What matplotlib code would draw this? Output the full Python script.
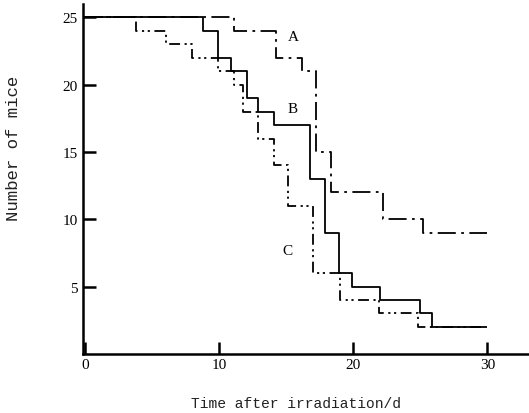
import matplotlib
matplotlib.use("Agg")
import matplotlib.pyplot as plt

# Survival curves (number of mice vs. days after irradiation)
A_t = [0, 11.1, 14.2, 16.2, 17.2, 18.3, 22.2, 25.2, 30]
A_n = [25, 24, 22, 21, 15, 12, 10, 9, 9]

B_t = [0, 8.8, 9.9, 10.9, 12.1, 12.9, 14.05, 16.8, 17.9, 18.9, 19.9, 22.0, 25.0, 25.9, 29.8]
B_n = [25, 24, 22, 21, 19, 18, 17, 13, 9, 6, 5, 4, 3, 2, 2]

C_t = [0, 3.8, 6.0, 8.0, 9.9, 11.1, 11.8, 12.9, 14.05, 15.1, 17.0, 19.0, 21.9, 24.8, 30]
C_n = [25, 24, 23, 22, 21, 20, 18, 16, 14, 11, 6, 4, 3, 2, 2]

x_ticks = [0, 10, 20, 30]
y_ticks = [5, 10, 15, 20, 25]
labels = ["A", "B", "C"]
label_pos = [(15.5, 23.6), (15.5, 18.2), (15.1, 7.7)]

fig = plt.figure(figsize=(5.29, 4.14), dpi=100)
ax = fig.add_axes([0.157, 0.143, 0.843, 0.845])

lw = 1.3
ax.step(A_t, A_n, where="post", color="black", lw=lw, linestyle=(0, (10, 3, 1.5, 3)))
ax.step(B_t, B_n, where="post", color="black", lw=lw, linestyle="-")
ax.step(C_t, C_n, where="post", color="black", lw=lw, linestyle=(0, (6, 2.5, 1.2, 2, 1.2, 2.5)))

for lab, (x, y) in zip(labels, label_pos):
    ax.text(x, y, lab, fontsize=11, family="Liberation Serif", ha="center", va="center")

ax.set_xlim(-0.15, 33.1)
ax.set_ylim(0, 26.0)
ax.set_xticks(x_ticks)
ax.set_yticks(y_ticks)
ax.set_xticklabels([str(v) for v in x_ticks], family="Liberation Serif", fontsize=11)
ax.set_yticklabels([str(v) for v in y_ticks], family="Liberation Serif", fontsize=11)
ax.tick_params(axis="both", direction="in", length=9, width=1.8, color="black")
ax.tick_params(axis="y", pad=4)
ax.tick_params(axis="x", pad=3)

for s in ["top", "right"]:
    ax.spines[s].set_visible(False)
for s in ["left", "bottom"]:
    ax.spines[s].set_linewidth(1.8)

fig.text(0.56, 0.024, "Time after irradiation/d", family="Liberation Mono",
         fontsize=10.5, ha="center", va="center", color="#222222")
fig.text(0.025, 0.642, "Number of mice", family="Liberation Mono",
         fontsize=12.5, ha="center", va="center", rotation=90, color="#222222")

fig.savefig("out.png", dpi=100)
